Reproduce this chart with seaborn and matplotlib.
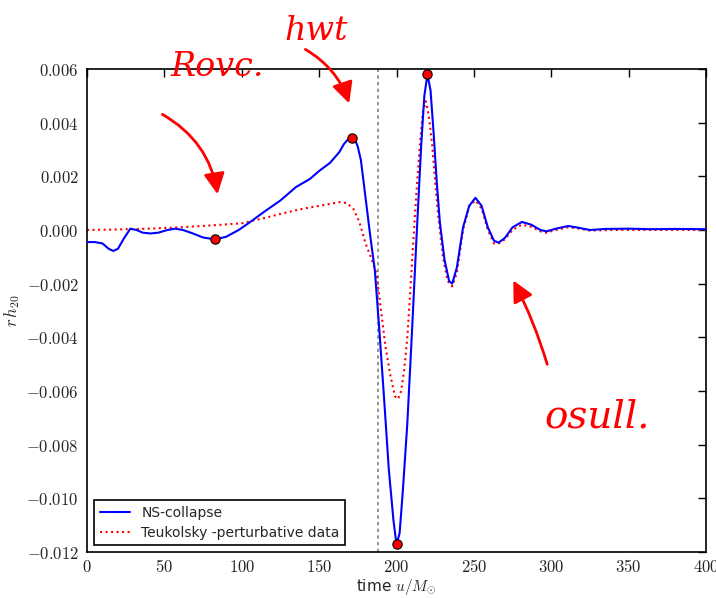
import numpy as np
import pandas as pd
import matplotlib
matplotlib.use("Agg")
import matplotlib.pyplot as plt
from matplotlib.ticker import FuncFormatter
import seaborn as sns

# ---------------- data ----------------
ns_t = [0, 5, 10, 14, 17, 20, 24, 28, 32, 36, 41, 46, 52, 57, 62, 68, 75, 83, 90, 98,
        105, 115, 125, 135, 144, 150, 157, 163, 166, 169, 171, 173, 175, 177, 180, 183, 186, 189,
        192, 195, 198, 200, 202, 204, 207, 210, 213, 216, 218, 220, 222, 224, 226, 228,
        231, 234, 236, 239, 243, 247, 251, 255, 259, 263, 266, 270, 275, 281, 287, 293,
        297, 303, 311, 318, 325, 335, 350, 365, 380, 400]
ns_h = [-0.00045, -0.00045, -0.0005, -0.0007, -0.00078, -0.0007, -0.0003, 0.00005, 0.0,
        -0.0001, -0.00013, -0.0001, 0.0, 0.00005, 0.0, -0.00012, -0.00028, -0.00035,
        -0.00025, 0.0, 0.00028, 0.0007, 0.0011, 0.0016, 0.0019, 0.0022, 0.0025, 0.0029,
        0.0032, 0.0034, 0.00343, 0.0034, 0.0031, 0.0026, 0.0012, -0.0002, -0.0015, -0.0038, -0.0063,
        -0.0089, -0.0108, -0.01172, -0.0113, -0.0098, -0.0072, -0.0038, -0.0002, 0.0032,
        0.0050, 0.0058, 0.0052, 0.0036, 0.0018, 0.0003, -0.0011, -0.0019, -0.0020,
        -0.0014, 0.0001, 0.0009, 0.0012, 0.0009, 0.0001, -0.0004, -0.00047, -0.0003,
        0.0001, 0.0003, 0.0002, 0.0, -0.00005, 0.00005, 0.00015, 0.00008, 0.0, 0.00004,
        0.00005, 0.00003, 0.00004, 0.00003]

teuk_t = [0, 20, 40, 60, 80, 100, 115, 125, 140, 155, 163, 168, 172, 176, 180, 184, 187,
          190, 193, 196, 199, 201, 203, 205, 207, 209, 211, 213, 215, 217, 219, 221, 223,
          225, 227, 230, 233, 236, 239, 243, 247, 251, 255, 259, 263, 266, 270, 275, 281,
          287, 293, 297, 303, 311, 318, 325, 340, 400]
teuk_h = [0.0, 0.00002, 0.00005, 0.0001, 0.00017, 0.00025, 0.00045, 0.0006, 0.0008,
          0.00095, 0.00104, 0.001, 0.0008, 0.0003, -0.0005, -0.0011, -0.0016, -0.0030,
          -0.0044, -0.0054, -0.0062, -0.0063, -0.0060, -0.0052, -0.0040, -0.0022, -0.0003,
          0.0015, 0.0031, 0.0044, 0.0048, 0.0042, 0.0032, 0.0018, 0.0005, -0.0010, -0.0019,
          -0.0021, -0.0016, 0.0, 0.0009, 0.0011, 0.0008, 0.0, -0.0005, -0.0005, -0.00035,
          0.0, 0.0002, 0.00012, -0.00005, -0.0001, 0.0, 0.0001, 0.00005, -0.00002, 0.0, 0.0]

dot_t = [83, 171, 200, 220]
dot_h = [-0.00035, 0.00343, -0.01172, 0.0058]

vline_t = 188

series_labels = ["NS-collapse", "Teukolsky -perturbative data"]
x_ticks = [0, 50, 100, 150, 200, 250, 300, 350, 400]
y_ticks = [-0.012, -0.010, -0.008, -0.006, -0.004, -0.002, 0.000, 0.002, 0.004, 0.006]

notes = ["Rovc.", "hwt", "osull."]

# ---------------- style ----------------
sns.set_style("white")
plt.rcParams["font.family"] = ["DejaVu Sans"]
plt.rcParams["mathtext.fontset"] = "cm"

fig = plt.figure(figsize=(7.16, 5.98), dpi=100)
ax = fig.add_axes([87 / 716, 1 - 552 / 598, (706 - 87) / 716, (552 - 69) / 598])

ns_df = pd.DataFrame({"t": ns_t, "h": ns_h})
tk_df = pd.DataFrame({"t": teuk_t, "h": teuk_h})

sns.lineplot(data=ns_df, x="t", y="h", ax=ax, color="blue", lw=1.5,
             label=series_labels[0], sort=False, zorder=3)
sns.lineplot(data=tk_df, x="t", y="h", ax=ax, color="red", lw=1.5, linestyle=":",
             label=series_labels[1], sort=False, zorder=2)
ax.axvline(vline_t, color="gray", lw=1.2, linestyle=(0, (2, 2)), zorder=1)
sns.scatterplot(x=dot_t, y=dot_h, ax=ax, color="red", edgecolor="black", s=45,
                linewidth=0.8, zorder=5, legend=False)

ax.set_xlim(0, 400)
ax.set_ylim(-0.012, 0.006)
ax.set_xticks(x_ticks)
ax.set_yticks(y_ticks)
ax.xaxis.set_major_formatter(FuncFormatter(lambda v, p: f"${int(round(v))}$"))
ax.yaxis.set_major_formatter(FuncFormatter(lambda v, p: f"${v:.3f}$"))
ax.tick_params(direction="in", length=6, width=1, top=True, right=True,
               labelsize=12, color="black")
ax.tick_params(axis="x", pad=4)
ax.tick_params(axis="y", pad=6)
for s in ax.spines.values():
    s.set_color("black")
    s.set_linewidth(1.2)

ax.set_xlabel("time $u/M_{\\odot}$", fontsize=11, labelpad=1)
ax.set_ylabel("$r\\,h_{20}$", fontsize=12)
ax.yaxis.set_label_coords(-0.105, 0.5)

leg = ax.legend(loc="lower left", fancybox=False, edgecolor="black", framealpha=1,
                fontsize=10, handlelength=2.2, borderaxespad=0.5, borderpad=0.4,
                labelspacing=0.4)
leg.get_frame().set_linewidth(1.2)

# handwritten-style red annotations
def fx(px):
    return px / 716

def fy(py):
    return 1 - py / 598

fig.text(fx(170), fy(76), notes[0], color="red", fontsize=24, style="italic",
         family="DejaVu Serif")
fig.text(fx(284), fy(40), notes[1], color="red", fontsize=24, style="italic",
         family="DejaVu Serif")
fig.text(fx(544), fy(428), notes[2], color="red", fontsize=28, style="italic",
         family="DejaVu Serif")

arrow_kw = dict(arrowstyle="-|>,head_length=0.9,head_width=0.45", color="red", lw=2)
fig.add_artist(matplotlib.patches.FancyArrowPatch(
    (fx(160), fy(113)), (fx(218), fy(197)), transform=fig.transFigure,
    connectionstyle="arc3,rad=-0.25", mutation_scale=14, **arrow_kw))
fig.add_artist(matplotlib.patches.FancyArrowPatch(
    (fx(303), fy(48)), (fx(350), fy(106)), transform=fig.transFigure,
    connectionstyle="arc3,rad=-0.2", mutation_scale=14, **arrow_kw))
fig.add_artist(matplotlib.patches.FancyArrowPatch(
    (fx(548), fy(367)), (fx(512), fy(278)), transform=fig.transFigure,
    connectionstyle="arc3,rad=0.05", mutation_scale=14, **arrow_kw))

fig.savefig("out.png", dpi=100, facecolor="white")
